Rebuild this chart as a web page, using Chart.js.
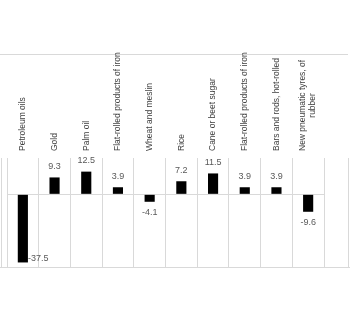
<!DOCTYPE html>
<html>
<head>
<meta charset="utf-8">
<script src="https://cdn.jsdelivr.net/npm/chart.js@4.4.1/dist/chart.umd.min.js"></script>
<style>
  html, body { margin: 0; padding: 0; background: #fff; }
  #wrap { position: relative; width: 350px; height: 322px; }
</style>
</head>
<body>
<div id="wrap"><canvas id="myChart"></canvas></div>
<script>
// Export categories and their change (%)
const categories = [
  'Petroleum oils',
  'Gold',
  'Palm oil',
  'Flat-rolled products of iron',
  'Wheat and meslin',
  'Rice',
  'Cane or beet sugar',
  'Flat-rolled products of iron',
  'Bars and rods, hot-rolled',
  ['New pneumatic tyres, of', 'rubber']
];
const changes = [-37.5, 9.3, 12.5, 3.9, -4.1, 7.2, 11.5, 3.9, 3.9, -9.6];

const yMin = -40;
const yMax = 20;

const labelFont = "'Liberation Sans Narrow', 'Liberation Sans', sans-serif";

// category names standing upright above each column;
// wrapped names are centred on the longest line
const categoryLabels = {
  id: 'categoryLabels',
  afterDraw(chart) {
    const ctx = chart.ctx;
    const xs = chart.scales.x;
    const base = chart.chartArea.top - 7;
    const lineGap = 10;
    ctx.save();
    ctx.font = '8.5px ' + labelFont;
    ctx.fillStyle = '#404040';
    ctx.textBaseline = 'middle';
    categories.forEach((name, i) => {
      const lines = Array.isArray(name) ? name : [name];
      const widest = Math.max(...lines.map(l => ctx.measureText(l).width));
      const x0 = xs.getPixelForTick(i) - (lines.length - 1) * lineGap / 2;
      lines.forEach((line, j) => {
        ctx.save();
        ctx.translate(x0 + j * lineGap, base);
        ctx.rotate(-Math.PI / 2);
        if (lines.length > 1) {
          ctx.textAlign = 'center';
          ctx.fillText(line, widest / 2, 0);
        } else {
          ctx.textAlign = 'left';
          ctx.fillText(line, 0, 0);
        }
        ctx.restore();
      });
    });
    ctx.restore();
  }
};

// value labels: above positive bars, below negative ones,
// beside the bar when there is no room underneath
const valueLabels = {
  id: 'valueLabels',
  afterDatasetsDraw(chart) {
    const ctx = chart.ctx;
    const meta = chart.getDatasetMeta(0);
    const area = chart.chartArea;
    ctx.save();
    ctx.font = '9px ' + labelFont;
    ctx.fillStyle = '#595959';
    ctx.textBaseline = 'middle';
    meta.data.forEach((bar, i) => {
      const v = changes[i];
      const text = v.toFixed(1);
      if (v >= 0) {
        ctx.textAlign = 'center';
        ctx.fillText(text, bar.x, bar.y - 11);
      } else if (bar.y + 11 > area.bottom - 4) {
        ctx.textAlign = 'left';
        ctx.fillText(text, bar.x + bar.width / 2, bar.y - 4);
      } else {
        ctx.textAlign = 'center';
        ctx.fillText(text, bar.x, bar.y + 11);
      }
    });
    ctx.restore();
  }
};

// outer frame round the table
const frame = {
  id: 'frame',
  beforeDraw(chart) {
    const ctx = chart.ctx;
    const area = chart.chartArea;
    const top = chart.scales.x.top;
    ctx.save();
    ctx.strokeStyle = '#d9d9d9';
    ctx.lineWidth = 1;
    ctx.beginPath();
    ctx.moveTo(0, top + 0.5);
    ctx.lineTo(chart.width - 2, top + 0.5);
    ctx.moveTo(1.5, area.top);
    ctx.lineTo(1.5, area.bottom);
    ctx.moveTo(chart.width - 1.5, area.top);
    ctx.lineTo(chart.width - 1.5, area.bottom);
    ctx.moveTo(0, area.bottom + 0.5);
    ctx.lineTo(chart.width, area.bottom + 0.5);
    ctx.stroke();
    ctx.restore();
  }
};

const ctx = document.getElementById('myChart').getContext('2d');
new Chart(ctx, {
  type: 'bar',
  data: {
    labels: categories,
    datasets: [{
      data: changes,
      backgroundColor: '#000000',
      borderWidth: 0,
      barPercentage: 0.32,
      categoryPercentage: 1
    }]
  },
  options: {
    responsive: true,
    maintainAspectRatio: false,
    animation: false,
    layout: { padding: { left: 7, right: 26, top: 54, bottom: 55 } },
    plugins: {
      legend: { display: false },
      tooltip: { enabled: false }
    },
    scales: {
      x: {
        position: 'top',
        offset: true,
        afterFit(scale) { scale.height = 104; },
        grid: {
          offset: true,
          color: '#d9d9d9',
          drawTicks: false
        },
        border: { display: false },
        ticks: { display: false, autoSkip: false }
      },
      y: {
        min: yMin,
        max: yMax,
        afterFit(scale) { scale.width = 0; },
        border: { display: false },
        ticks: { display: false, stepSize: 20 },
        grid: {
          drawTicks: false,
          color: c => c.tick.value === 0 ? '#d9d9d9' : 'rgba(0,0,0,0)'
        }
      }
    }
  },
  plugins: [frame, categoryLabels, valueLabels]
});
</script>
</body>
</html>
